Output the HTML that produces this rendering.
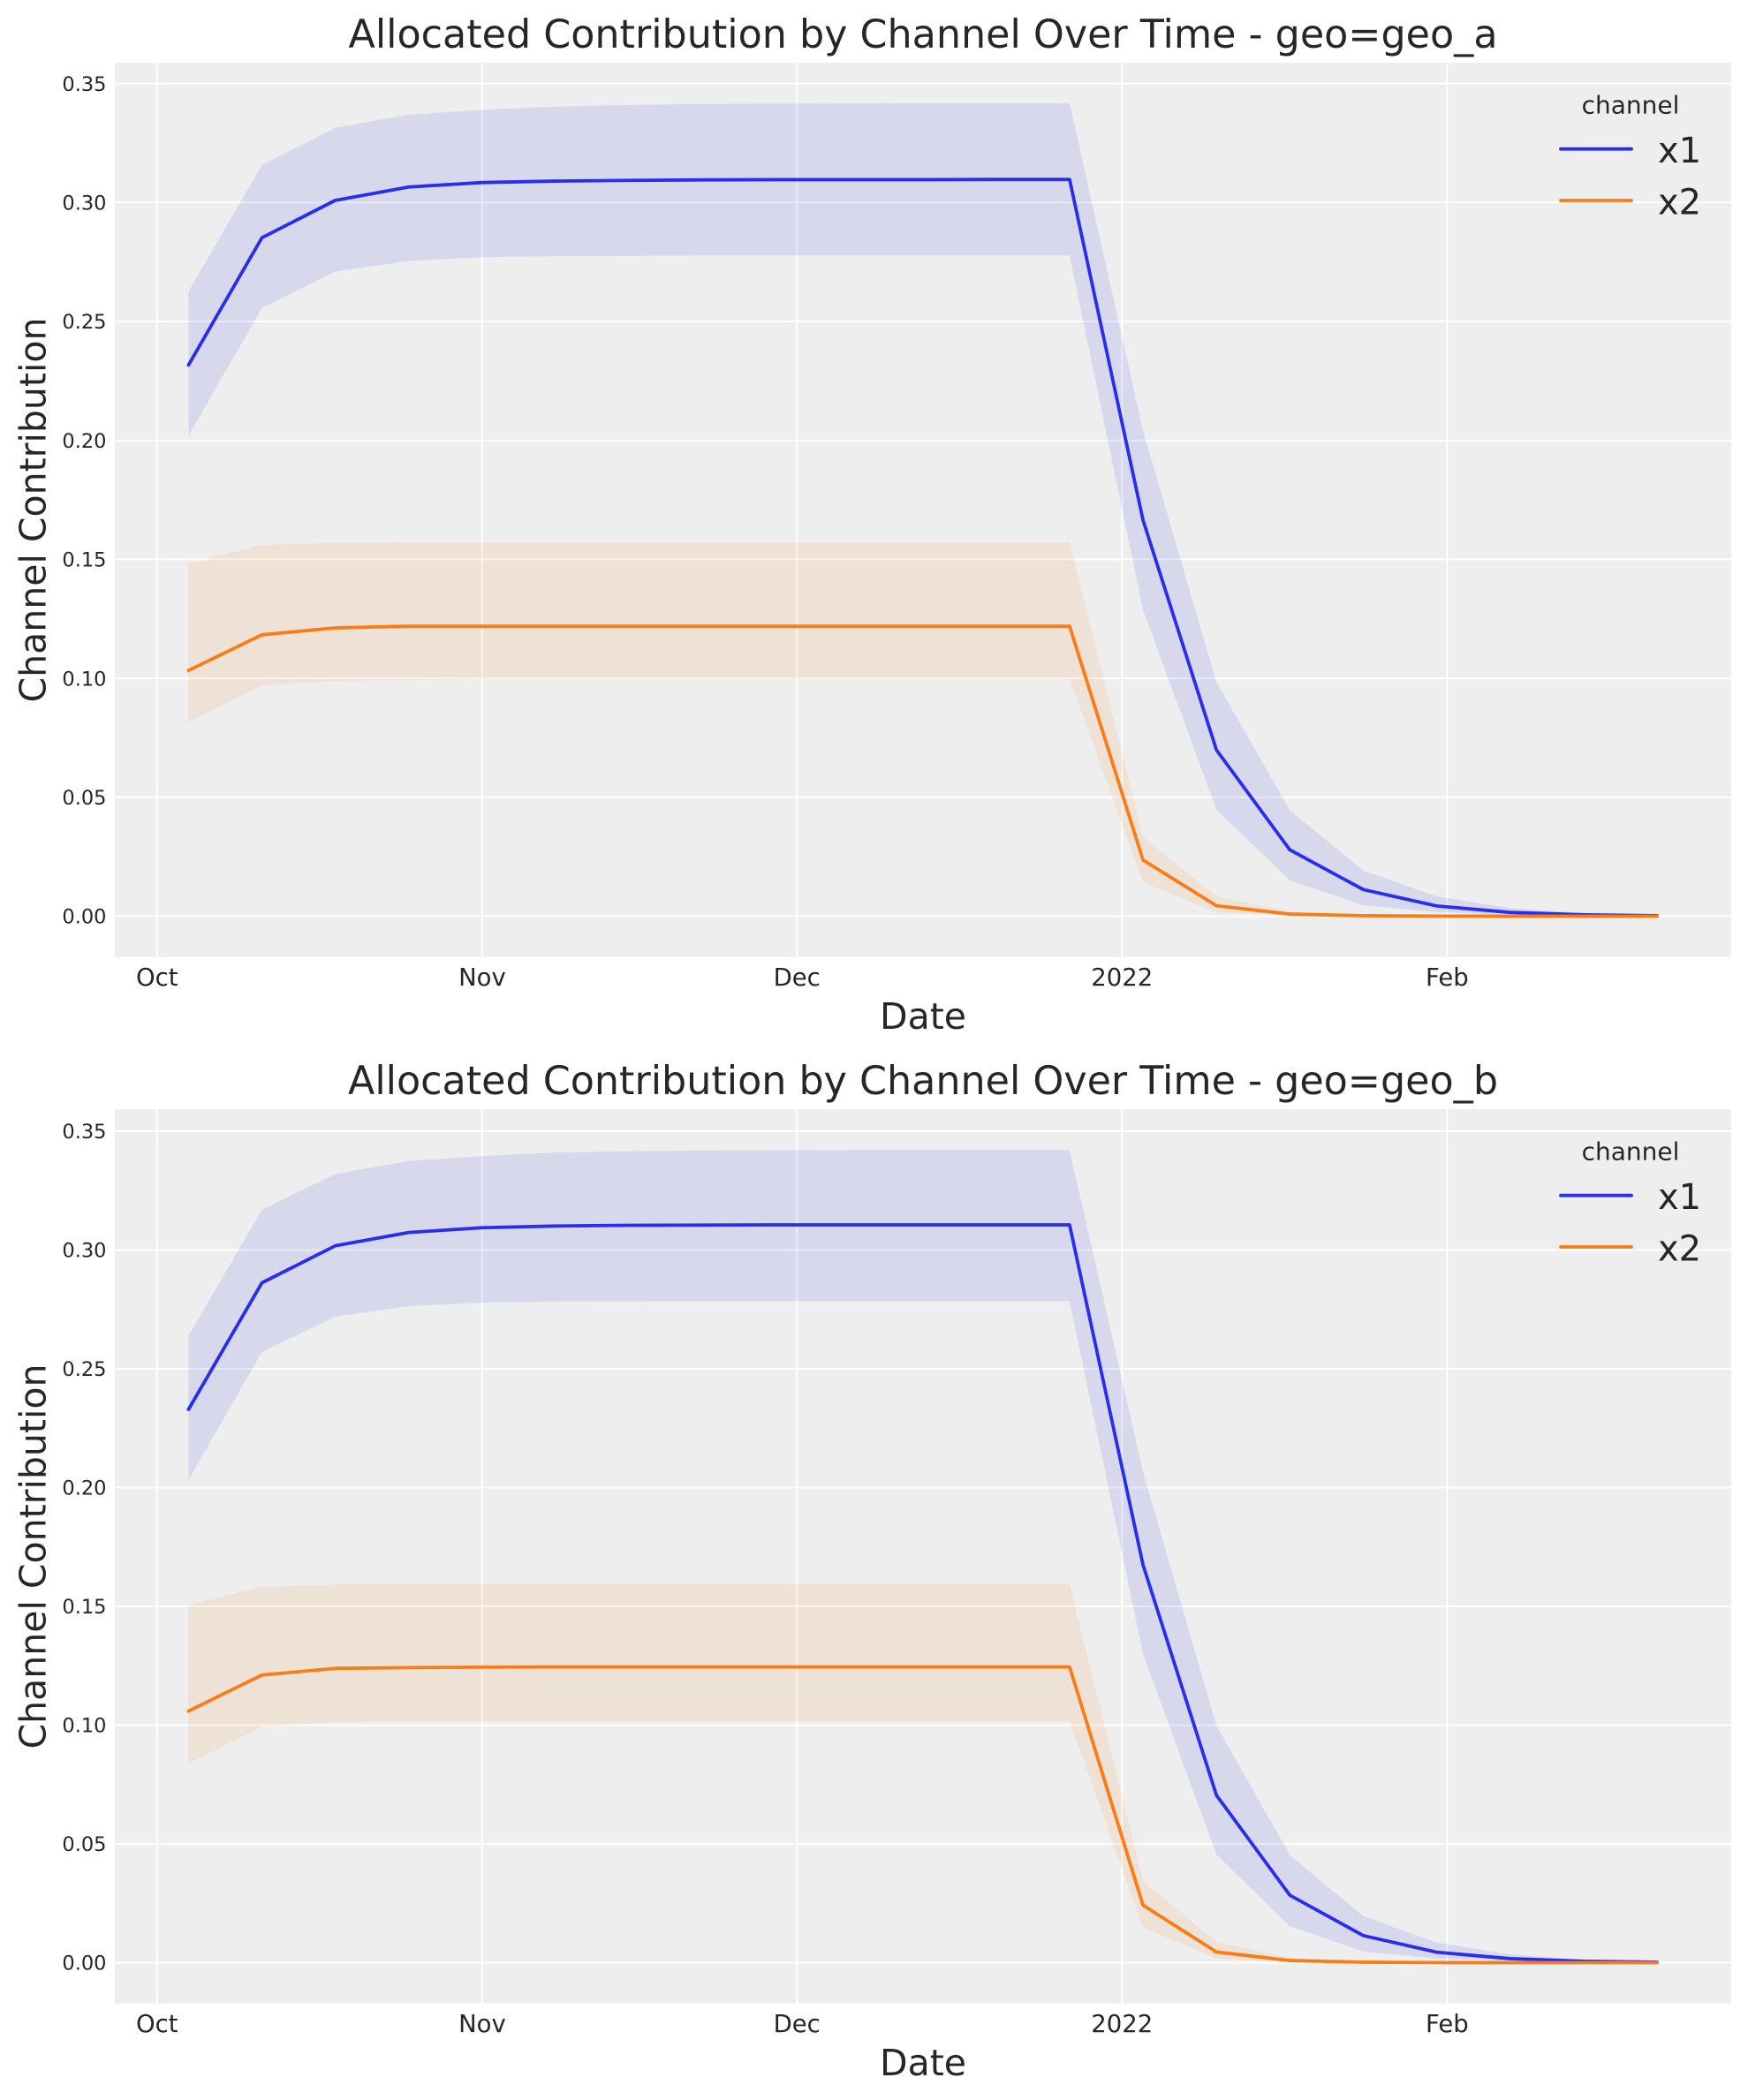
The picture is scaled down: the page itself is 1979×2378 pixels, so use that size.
<!DOCTYPE html>
<html>
<head>
<meta charset="utf-8">
<style>
  html, body { margin: 0; padding: 0; background: #ffffff; }
  svg { display: block; }
  text { font-family: "DejaVu Sans", "Liberation Sans", sans-serif; fill: #262626; }
  .ytick { font-size: 22.5px; text-anchor: end; }
  .xtick { font-size: 27.5px; text-anchor: middle; }
  .title { font-size: 44.4px; text-anchor: middle; }
  .label { font-size: 41px; text-anchor: middle; }
  .legt { font-size: 28px; text-anchor: middle; }
  .legl { font-size: 40px; }
  .grid { stroke: #ffffff; stroke-width: 2; }
  .l1 { fill: none; stroke: #2a2eec; stroke-width: 3.8; stroke-linejoin: round; stroke-linecap: round; }
  .l2 { fill: none; stroke: #fa7c17; stroke-width: 3.8; stroke-linejoin: round; stroke-linecap: round; }
  .b1 { fill: #2a2eec; fill-opacity: 0.11; stroke: none; }
  .b2 { fill: #fa7c17; fill-opacity: 0.11; stroke: none; }
</style>
</head>
<body>
<svg width="1979" height="2378" viewBox="0 0 1979 2378" xmlns="http://www.w3.org/2000/svg">
  <rect x="0" y="0" width="1979" height="2378" fill="#ffffff"/>

  <!-- ================= TOP CHART (geo_a) ================= -->
  <text class="title" x="1045" y="54">Allocated Contribution by Channel Over Time - geo=geo_a</text>
  <rect x="130" y="71" width="1830" height="1012.7" fill="#eeeeee"/>
  <g class="grid">
    <line x1="130" x2="1960" y1="1037.5" y2="1037.5"/>
    <line x1="130" x2="1960" y1="902.8" y2="902.8"/>
    <line x1="130" x2="1960" y1="768.1" y2="768.1"/>
    <line x1="130" x2="1960" y1="633.4" y2="633.4"/>
    <line x1="130" x2="1960" y1="498.7" y2="498.7"/>
    <line x1="130" x2="1960" y1="364" y2="364"/>
    <line x1="130" x2="1960" y1="229.3" y2="229.3"/>
    <line x1="130" x2="1960" y1="94.6" y2="94.6"/>
    <line x1="177.8" x2="177.8" y1="71" y2="1083.7"/>
    <line x1="545.9" x2="545.9" y1="71" y2="1083.7"/>
    <line x1="902.2" x2="902.2" y1="71" y2="1083.7"/>
    <line x1="1270.3" x2="1270.3" y1="71" y2="1083.7"/>
    <line x1="1638.4" x2="1638.4" y1="71" y2="1083.7"/>
  </g>
  <g transform="translate(177.8,1037.5) scale(11.875,-2694)">
    <polygon class="b1" points="3,0.2626 10,0.3158 17,0.3314 24,0.3369 31,0.3390 38,0.3403 45,0.3410 52,0.3414 59,0.3416 66,0.3417 73,0.3418 80,0.3418 87,0.3418 94,0.2041 101,0.0984 108,0.0445 115,0.0192 122,0.0083 129,0.0034 136,0.0013 143,0.0005 143,0.0000 136,0.0002 129,0.0006 122,0.0017 115,0.0046 108,0.0151 101,0.0448 94,0.1287 87,0.2777 80,0.2777 73,0.2777 66,0.2777 59,0.2777 52,0.2777 45,0.2776 38,0.2774 31,0.2770 24,0.2754 17,0.2710 10,0.2556 3,0.2020"/>
    <polyline class="l1" vector-effect="non-scaling-stroke" points="3,0.2317 10,0.2852 17,0.3009 24,0.3065 31,0.3084 38,0.3090 45,0.3093 52,0.3095 59,0.3096 66,0.3096 73,0.3096 80,0.3097 87,0.3097 94,0.1665 101,0.0699 108,0.0279 115,0.0112 122,0.0043 129,0.0016 136,0.0006 143,0.0002"/>
    <polygon class="b2" points="3,0.1480 10,0.1562 17,0.1568 24,0.1572 31,0.1572 38,0.1572 45,0.1572 52,0.1572 59,0.1572 66,0.1572 73,0.1572 80,0.1572 87,0.1572 94,0.0333 101,0.0083 108,0.0020 115,0.0005 122,0.0001 129,0.0000 136,0.0000 143,0.0000 143,0.0000 136,0.0000 129,0.0000 122,0.0000 115,0.0001 108,0.0003 101,0.0016 94,0.0143 87,0.0996 80,0.0996 73,0.0996 66,0.0996 59,0.0996 52,0.0996 45,0.0996 38,0.0996 31,0.0996 24,0.0993 17,0.0989 10,0.0971 3,0.0816"/>
    <polyline class="l2" vector-effect="non-scaling-stroke" points="3,0.1033 10,0.1183 17,0.1212 24,0.1219 31,0.1219 38,0.1219 45,0.1219 52,0.1219 59,0.1219 66,0.1219 73,0.1219 80,0.1219 87,0.1219 94,0.0236 101,0.0044 108,0.0009 115,0.0002 122,0.00004 129,0 136,0 143,0"/>
  </g>
  <text class="ytick" x="120.5" y="1045.7">0.00</text>
  <text class="ytick" x="120.5" y="911">0.05</text>
  <text class="ytick" x="120.5" y="776.3">0.10</text>
  <text class="ytick" x="120.5" y="641.6">0.15</text>
  <text class="ytick" x="120.5" y="506.9">0.20</text>
  <text class="ytick" x="120.5" y="372.2">0.25</text>
  <text class="ytick" x="120.5" y="237.5">0.30</text>
  <text class="ytick" x="120.5" y="102.8">0.35</text>
  <text class="xtick" x="177.8" y="1116">Oct</text>
  <text class="xtick" x="545.9" y="1116">Nov</text>
  <text class="xtick" x="902.2" y="1116">Dec</text>
  <text class="xtick" x="1270.3" y="1116">2022</text>
  <text class="xtick" x="1638.4" y="1116">Feb</text>
  <text class="label" x="1045" y="1165">Date</text>
  <text class="label" transform="translate(51.7,577.5) rotate(-90)">Channel Contribution</text>
  <text class="legt" x="1846" y="128.3">channel</text>
  <line x1="1767" x2="1847" y1="168.7" y2="168.7" stroke="#2a2eec" stroke-width="3.8" stroke-linecap="round"/>
  <line x1="1767" x2="1847" y1="227" y2="227" stroke="#fa7c17" stroke-width="3.8" stroke-linecap="round"/>
  <text class="legl" x="1877" y="184">x1</text>
  <text class="legl" x="1877" y="242.5">x2</text>

  <!-- ================= BOTTOM CHART (geo_b) ================= -->
  <text class="title" x="1045" y="1239">Allocated Contribution by Channel Over Time - geo=geo_b</text>
  <rect x="130" y="1256" width="1830" height="1012.7" fill="#eeeeee"/>
  <g class="grid">
    <line x1="130" x2="1960" y1="2222.5" y2="2222.5"/>
    <line x1="130" x2="1960" y1="2088" y2="2088"/>
    <line x1="130" x2="1960" y1="1953.5" y2="1953.5"/>
    <line x1="130" x2="1960" y1="1819" y2="1819"/>
    <line x1="130" x2="1960" y1="1684.5" y2="1684.5"/>
    <line x1="130" x2="1960" y1="1550" y2="1550"/>
    <line x1="130" x2="1960" y1="1415.5" y2="1415.5"/>
    <line x1="130" x2="1960" y1="1281" y2="1281"/>
    <line x1="177.8" x2="177.8" y1="1256" y2="2268.7"/>
    <line x1="545.9" x2="545.9" y1="1256" y2="2268.7"/>
    <line x1="902.2" x2="902.2" y1="1256" y2="2268.7"/>
    <line x1="1270.3" x2="1270.3" y1="1256" y2="2268.7"/>
    <line x1="1638.4" x2="1638.4" y1="1256" y2="2268.7"/>
  </g>
  <g transform="translate(177.8,2222.5) scale(11.875,-2690)">
    <polygon class="b1" points="3,0.2639 10,0.3169 17,0.3320 24,0.3375 31,0.3396 38,0.3411 45,0.3416 52,0.3419 59,0.3420 66,0.3421 73,0.3421 80,0.3421 87,0.3421 94,0.2066 101,0.0998 108,0.0452 115,0.0196 122,0.0085 129,0.0035 136,0.0014 143,0.0005 143,0.0000 136,0.0002 129,0.0006 122,0.0017 115,0.0047 108,0.0154 101,0.0455 94,0.1300 87,0.2785 80,0.2785 73,0.2785 66,0.2785 59,0.2785 52,0.2785 45,0.2784 38,0.2783 31,0.2779 24,0.2764 17,0.2720 10,0.2571 3,0.2032"/>
    <polyline class="l1" vector-effect="non-scaling-stroke" points="3,0.2329 10,0.2862 17,0.3018 24,0.3074 31,0.3094 38,0.3101 45,0.3104 52,0.3105 59,0.3106 66,0.3106 73,0.3106 80,0.3106 87,0.3106 94,0.1675 101,0.0705 108,0.0284 115,0.0114 122,0.0044 129,0.0017 136,0.0006 143,0.0002"/>
    <polygon class="b2" points="3,0.1505 10,0.1582 17,0.1592 24,0.1594 31,0.1595 38,0.1595 45,0.1595 52,0.1595 59,0.1595 66,0.1595 73,0.1595 80,0.1595 87,0.1595 94,0.0345 101,0.0087 108,0.0021 115,0.0005 122,0.0001 129,0.0000 136,0.0000 143,0.0000 143,0.0000 136,0.0000 129,0.0000 122,0.0000 115,0.0001 108,0.0003 101,0.0017 94,0.0147 87,0.1018 80,0.1018 73,0.1018 66,0.1018 59,0.1018 52,0.1018 45,0.1018 38,0.1018 31,0.1018 24,0.1017 17,0.1013 10,0.0994 3,0.0839"/>
    <polyline class="l2" vector-effect="non-scaling-stroke" points="3,0.1059 10,0.1211 17,0.1239 24,0.1242 31,0.1244 38,0.1245 45,0.1245 52,0.1245 59,0.1245 66,0.1245 73,0.1245 80,0.1245 87,0.1245 94,0.0242 101,0.0045 108,0.0009 115,0.0002 122,0.00004 129,0 136,0 143,0"/>
  </g>
  <text class="ytick" x="120.5" y="2230.7">0.00</text>
  <text class="ytick" x="120.5" y="2096.2">0.05</text>
  <text class="ytick" x="120.5" y="1961.7">0.10</text>
  <text class="ytick" x="120.5" y="1827.2">0.15</text>
  <text class="ytick" x="120.5" y="1692.7">0.20</text>
  <text class="ytick" x="120.5" y="1558.2">0.25</text>
  <text class="ytick" x="120.5" y="1423.7">0.30</text>
  <text class="ytick" x="120.5" y="1289.2">0.35</text>
  <text class="xtick" x="177.8" y="2301">Oct</text>
  <text class="xtick" x="545.9" y="2301">Nov</text>
  <text class="xtick" x="902.2" y="2301">Dec</text>
  <text class="xtick" x="1270.3" y="2301">2022</text>
  <text class="xtick" x="1638.4" y="2301">Feb</text>
  <text class="label" x="1045" y="2350">Date</text>
  <text class="label" transform="translate(51.7,1762.5) rotate(-90)">Channel Contribution</text>
  <text class="legt" x="1846" y="1313.3">channel</text>
  <line x1="1767" x2="1847" y1="1353.7" y2="1353.7" stroke="#2a2eec" stroke-width="3.8" stroke-linecap="round"/>
  <line x1="1767" x2="1847" y1="1412" y2="1412" stroke="#fa7c17" stroke-width="3.8" stroke-linecap="round"/>
  <text class="legl" x="1877" y="1369">x1</text>
  <text class="legl" x="1877" y="1427.5">x2</text>
</svg>
</body>
</html>
